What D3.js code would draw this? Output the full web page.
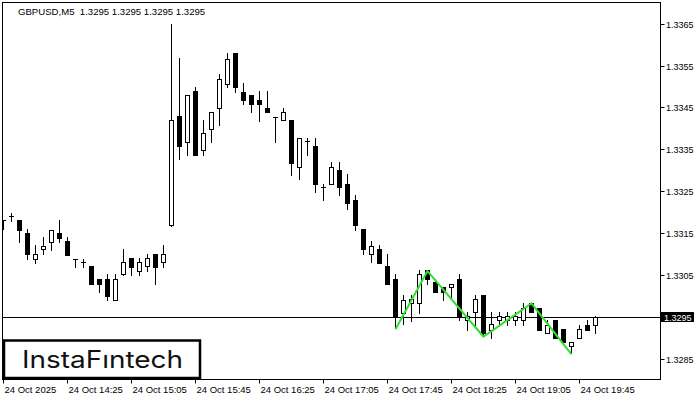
<!DOCTYPE HTML>
<html>
<head>
  <title>GBPUSD M5</title>
  <script src="https://d3js.org/d3.v7.min.js"></script>
  <style>
    body, html {
      margin: 0;
      padding: 0;
      background: #fff;
      overflow: hidden;
    }

    .axis-text {
      font-family: "Liberation Sans", "DejaVu Sans", sans-serif;
      font-size: 9.5px;
      fill: #000;
    }
  </style>
</head>
<body>
<svg id="chart" width="700" height="400"></svg>

<script type="text/javascript">

// Candles, 5 min each
const opens = [
  1.33181, 1.33190, 1.33181, 1.33150, 1.33089, 1.33111, 1.33129, 1.33149, 1.33130, 1.33089,
  1.33080, 1.33071, 1.33040, 1.33040, 1.32991, 1.33051, 1.33090, 1.33060, 1.33070, 1.33099,
  1.33080, 1.33170, 1.33429, 1.33368, 1.33489, 1.33349, 1.33399, 1.33448, 1.33507, 1.33580,
  1.33488, 1.33479, 1.33469, 1.33448, 1.33428, 1.33419, 1.33419, 1.33308, 1.33370, 1.33359,
  1.33259, 1.33268, 1.33300, 1.33268, 1.33230, 1.33159, 1.33099, 1.33111, 1.33071, 1.33040,
  1.32959, 1.32982, 1.32982, 1.33061, 1.33032, 1.33021, 1.33020, 1.33040, 1.32942, 1.32960,
  1.33002, 1.32919, 1.32942, 1.32942, 1.32942, 1.32942, 1.32982, 1.32971, 1.32910, 1.32942,
  1.32920, 1.32880, 1.32900, 1.32931, 1.32931
];
const highs = [
  1.33181, 1.33198, 1.33181, 1.33159, 1.33121, 1.33140, 1.33158, 1.33181, 1.33140, 1.33089,
  1.33089, 1.33071, 1.33040, 1.33052, 1.33052, 1.33111, 1.33090, 1.33090, 1.33099, 1.33099,
  1.33121, 1.33649, 1.33569, 1.33479, 1.33499, 1.33419, 1.33439, 1.33529, 1.33580, 1.33580,
  1.33508, 1.33479, 1.33489, 1.33489, 1.33428, 1.33449, 1.33419, 1.33378, 1.33378, 1.33378,
  1.33268, 1.33319, 1.33319, 1.33290, 1.33240, 1.33159, 1.33130, 1.33121, 1.33099, 1.33051,
  1.33001, 1.33001, 1.33061, 1.33061, 1.33041, 1.33021, 1.33029, 1.33051, 1.32961, 1.33001,
  1.33002, 1.32960, 1.32960, 1.32960, 1.32960, 1.32982, 1.32982, 1.32971, 1.32942, 1.32942,
  1.32920, 1.32890, 1.32930, 1.32942, 1.32952
];
const lows = [
  1.33159, 1.33179, 1.33129, 1.33087, 1.33079, 1.33099, 1.33109, 1.33129, 1.33098, 1.33069,
  1.33069, 1.33028, 1.33009, 1.32989, 1.32991, 1.33049, 1.33050, 1.33050, 1.33060, 1.33028,
  1.33069, 1.33166, 1.33326, 1.33336, 1.33336, 1.33336, 1.33368, 1.33409, 1.33498, 1.33487,
  1.33459, 1.33438, 1.33418, 1.33438, 1.33368, 1.33419, 1.33289, 1.33278, 1.33337, 1.33249,
  1.33230, 1.33268, 1.33240, 1.33208, 1.33158, 1.33099, 1.33080, 1.33079, 1.33029, 1.32923,
  1.32932, 1.32940, 1.32959, 1.33029, 1.33009, 1.32991, 1.32998, 1.32942, 1.32919, 1.32930,
  1.32903, 1.32900, 1.32931, 1.32931, 1.32931, 1.32931, 1.32960, 1.32919, 1.32910, 1.32900,
  1.32890, 1.32862, 1.32900, 1.32919, 1.32910
];
const closes = [
  1.33181, 1.33190, 1.33158, 1.33099, 1.33099, 1.33120, 1.33158, 1.33138, 1.33098, 1.33089,
  1.33080, 1.33028, 1.33028, 1.33000, 1.33040, 1.33080, 1.33069, 1.33080, 1.33090, 1.33069,
  1.33099, 1.33419, 1.33358, 1.33479, 1.33336, 1.33389, 1.33439, 1.33518, 1.33567, 1.33498,
  1.33469, 1.33459, 1.33459, 1.33438, 1.33428, 1.33438, 1.33318, 1.33378, 1.33370, 1.33268,
  1.33259, 1.33308, 1.33259, 1.33221, 1.33169, 1.33111, 1.33119, 1.33079, 1.33029, 1.32951,
  1.32991, 1.32992, 1.33051, 1.33040, 1.33009, 1.33009, 1.33029, 1.32951, 1.32951, 1.32992,
  1.32911, 1.32932, 1.32951, 1.32951, 1.32951, 1.32971, 1.32960, 1.32919, 1.32931, 1.32900,
  1.32890, 1.32890, 1.32920, 1.32919, 1.32950
];

// Pattern line: bar index and price of each turning point
const patternBars = [49, 53, 60, 66, 71];
const patternPrices = [1.32920, 1.33059, 1.32902, 1.32982, 1.32860];

// Axis labels
const priceTicks = [1.3285, 1.3295, 1.3305, 1.3315, 1.3325, 1.3335, 1.3345, 1.3355, 1.3365];
const timeTickBars = [0, 8, 16, 24, 32, 40, 48, 56, 64, 72];
const timeTickLabels = ["24 Oct 2025", "24 Oct 14:25", "24 Oct 15:05", "24 Oct 15:45", "24 Oct 16:25",
                        "24 Oct 17:05", "24 Oct 17:45", "24 Oct 18:25", "24 Oct 19:05", "24 Oct 19:45"];

const lastPrice = 1.3295;
const title = "GBPUSD,M5  1.3295 1.3295 1.3295 1.3295";

const candles = opens.map((o, i) => ({ i: i, o: o, h: highs[i], l: lows[i], c: closes[i] }));

// Plot frame
const frameLeft = 2.5, frameTop = 2.5, frameRight = 660.5, frameBottom = 379.5;

const x = d3.scaleLinear()
    .domain([0, 82])
    .range([3, 659]);

const y = d3.scaleLinear()
    .domain([1.3285, 1.3365])
    .range([358.5, 23.8]);

const svg = d3.select("#chart");

svg.append("defs").append("clipPath")
    .attr("id", "plotClip")
  .append("rect")
    .attr("x", 3)
    .attr("y", 3)
    .attr("width", frameRight - 3)
    .attr("height", frameBottom - 3);

const plot = svg.append("g").attr("clip-path", "url(#plotClip)");

// Current price line
const py = Math.round(y(lastPrice)) + 0.5;
plot.append("line")
    .attr("x1", frameLeft)
    .attr("x2", frameRight)
    .attr("y1", py)
    .attr("y2", py)
    .attr("stroke", "#000")
    .attr("stroke-width", 1);

// Candles
const g = plot.selectAll(".candle")
    .data(candles)
  .enter().append("g")
    .attr("class", "candle");

g.append("line")
    .attr("x1", d => Math.round(x(d.i)) + 0.5)
    .attr("x2", d => Math.round(x(d.i)) + 0.5)
    .attr("y1", d => Math.round(y(d.h)))
    .attr("y2", d => Math.round(y(d.l)) + 1)
    .attr("stroke", "#000")
    .attr("stroke-width", 1);

g.each(function(d) {
  const cx = Math.round(x(d.i));
  const yTop = Math.round(y(Math.max(d.o, d.c)));
  const yBot = Math.round(y(Math.min(d.o, d.c)));

  if (yBot - yTop < 1) {
    // Doji
    d3.select(this).append("line")
        .attr("x1", cx - 2)
        .attr("x2", cx + 3)
        .attr("y1", yTop + 0.5)
        .attr("y2", yTop + 0.5)
        .attr("stroke", "#000");
    return;
  }

  d3.select(this).append("rect")
      .attr("x", cx - 1.5)
      .attr("y", yTop + 0.5)
      .attr("width", 4)
      .attr("height", yBot - yTop)
      .attr("fill", d.c < d.o ? "#000" : "#fff")
      .attr("stroke", "#000")
      .attr("stroke-width", 1);
});

// Pattern
plot.append("path")
    .datum(patternBars.map((b, k) => [b, patternPrices[k]]))
    .attr("fill", "none")
    .attr("stroke", "#2fe02f")
    .attr("stroke-width", 2)
    .attr("stroke-linejoin", "round")
    .attr("d", d3.line().x(d => x(d[0]) + 0.5).y(d => y(d[1])));

// Frame
svg.append("rect")
    .attr("x", frameLeft)
    .attr("y", frameTop)
    .attr("width", frameRight - frameLeft)
    .attr("height", frameBottom - frameTop)
    .attr("fill", "none")
    .attr("stroke", "#000")
    .attr("stroke-width", 1);

// Price axis
const yTicks = svg.append("g").selectAll("g")
    .data(priceTicks)
  .enter().append("g")
    .attr("transform", d => "translate(0," + (Math.round(y(d)) + 0.5) + ")");

yTicks.append("line")
    .attr("x1", frameRight)
    .attr("x2", frameRight + 4)
    .attr("stroke", "#000");

// the last price box covers its own grid label
yTicks.filter(d => d !== lastPrice).append("text")
    .attr("class", "axis-text")
    .attr("x", 666)
    .attr("dy", "0.35em")
    .style("font-size", "9px")
    .text(d => d.toFixed(4));

// Last price box
svg.append("rect")
    .attr("x", 661)
    .attr("y", py - 5.5)
    .attr("width", 33)
    .attr("height", 10)
    .attr("fill", "#000");

svg.append("text")
    .attr("class", "axis-text")
    .attr("x", 664)
    .attr("y", py)
    .attr("dy", "0.35em")
    .style("font-size", "9px")
    .style("fill", "#fff")
    .text(lastPrice.toFixed(4));

// Time axis
const xTicks = svg.append("g").selectAll("g")
    .data(timeTickBars)
  .enter().append("g")
    .attr("transform", d => "translate(" + (Math.round(x(d)) + 0.5) + ",0)");

xTicks.append("line")
    .attr("y1", frameBottom)
    .attr("y2", frameBottom + 4)
    .attr("stroke", "#000");

xTicks.append("text")
    .attr("class", "axis-text")
    .attr("x", 1)
    .attr("y", 393)
    .text((d, k) => timeTickLabels[k]);

// Title
svg.append("text")
    .attr("x", 18)
    .attr("y", 15)
    .style("font-family", "'Liberation Sans', 'DejaVu Sans', sans-serif")
    .style("font-size", "9.6px")
    .style("white-space", "pre")
    .text(title);

// Logo
svg.append("rect")
    .attr("x", 4)
    .attr("y", 340.5)
    .attr("width", 196)
    .attr("height", 37.5)
    .attr("fill", "#fff")
    .attr("stroke", "#000")
    .attr("stroke-width", 2.5);

svg.append("text")
    .attr("x", 22)
    .attr("y", 368)
    .attr("textLength", 161)
    .attr("lengthAdjust", "spacingAndGlyphs")
    .style("font-family", "Inter, 'Open Sans', sans-serif")
    .style("font-size", "24px")
    .style("font-weight", 400)
    .style("fill", "#111")
    .text("InstaF\u0131ntech");

</script>
</body>
</html>
